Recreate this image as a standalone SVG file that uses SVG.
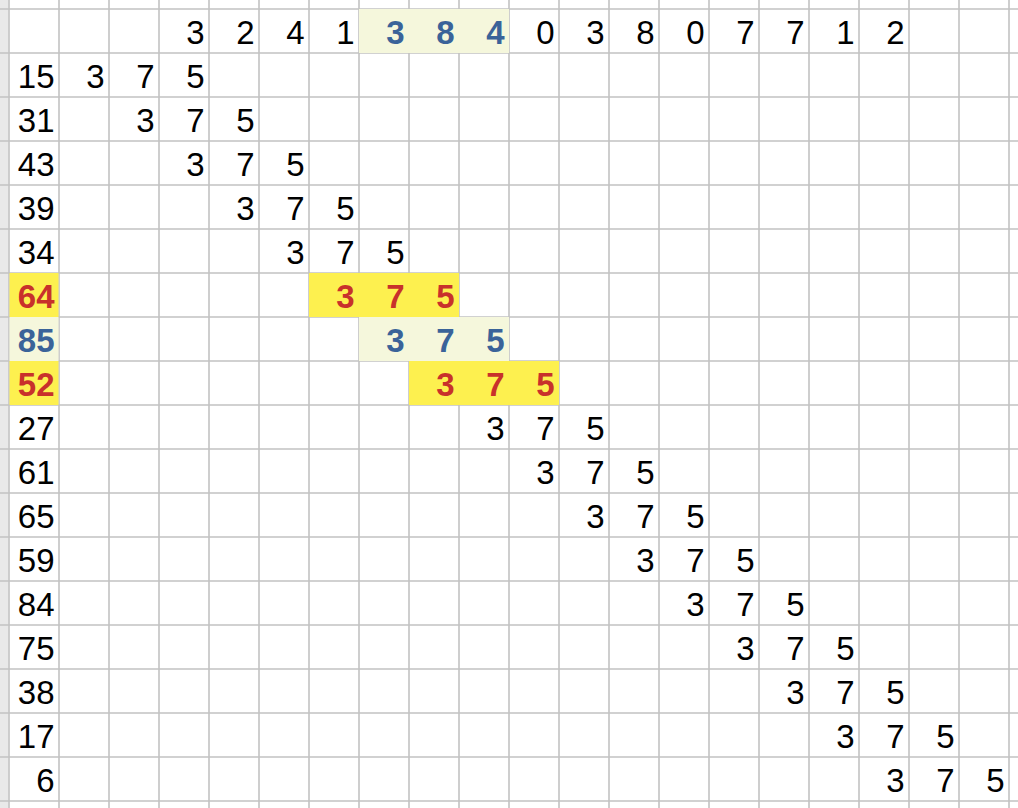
<svg xmlns="http://www.w3.org/2000/svg" width="1018" height="808" viewBox="0 0 1018 808">
<style>
.g{stroke:#c2c2c2;stroke-width:1.6;fill:none}
.n{font-family:"Liberation Sans",Arial,sans-serif;font-size:33px;text-anchor:end;fill:#000}
.r{font-weight:bold;fill:#c8312b}
.b{font-weight:bold;fill:#3a6399}
.y{fill:#fdf04f}
.p{fill:#f5f7dc}
</style>
<rect x="0" y="0" width="1018" height="808" fill="#fff"/>
<rect x="0" y="0" width="8.5" height="808" fill="#e9e9e9"/>
<g id="grid">
<path class="g" d="M9 0V808M59 0V808M109 0V808M159 0V808M209 0V808M259 0V808M309 0V808M359 0V808M409 0V808M459 0V808M509 0V808M559 0V808M609 0V808M659 0V808M709 0V808M759 0V808M809 0V808M859 0V808M909 0V808M959 0V808M1009 0V808"/>
<path class="g" d="M0 9H1018M0 53H1018M0 97H1018M0 141H1018M0 185H1018M0 229H1018M0 273H1018M0 317H1018M0 361H1018M0 405H1018M0 449H1018M0 493H1018M0 537H1018M0 581H1018M0 625H1018M0 669H1018M0 713H1018M0 757H1018M0 801H1018"/>
</g>
<g id="highlights">
<rect class="p" x="359" y="9" width="150" height="44"/>
<rect class="y" x="9.5" y="273" width="49" height="44"/>
<rect class="y" x="309" y="273" width="150" height="44"/>
<rect class="p" x="9.5" y="317" width="49" height="44"/>
<rect class="p" x="359" y="317" width="150" height="44"/>
<rect class="y" x="9.5" y="361" width="49" height="44"/>
<rect class="y" x="409" y="361" width="150" height="44"/>
</g>
<g id="header" class="n">
<text x="204.5" y="44">3</text><text x="254.5" y="44">2</text><text x="304.5" y="44">4</text><text x="354.5" y="44">1</text>
<text class="b" x="404.5" y="44">3</text><text class="b" x="454.5" y="44">8</text><text class="b" x="504.5" y="44">4</text>
<text x="554.5" y="44">0</text><text x="604.5" y="44">3</text><text x="654.5" y="44">8</text><text x="704.5" y="44">0</text><text x="754.5" y="44">7</text><text x="804.5" y="44">7</text><text x="854.5" y="44">1</text><text x="904.5" y="44">2</text>
</g>
<g id="row1" class="n"><text x="54.5" y="88">15</text><text x="104.5" y="88">3</text><text x="154.5" y="88">7</text><text x="204.5" y="88">5</text></g>
<g id="row2" class="n"><text x="54.5" y="132">31</text><text x="154.5" y="132">3</text><text x="204.5" y="132">7</text><text x="254.5" y="132">5</text></g>
<g id="row3" class="n"><text x="54.5" y="176">43</text><text x="204.5" y="176">3</text><text x="254.5" y="176">7</text><text x="304.5" y="176">5</text></g>
<g id="row4" class="n"><text x="54.5" y="220">39</text><text x="254.5" y="220">3</text><text x="304.5" y="220">7</text><text x="354.5" y="220">5</text></g>
<g id="row5" class="n"><text x="54.5" y="264">34</text><text x="304.5" y="264">3</text><text x="354.5" y="264">7</text><text x="404.5" y="264">5</text></g>
<g id="row6" class="n r"><text x="54.5" y="308">64</text><text x="354.5" y="308">3</text><text x="404.5" y="308">7</text><text x="454.5" y="308">5</text></g>
<g id="row7" class="n b"><text x="54.5" y="352">85</text><text x="404.5" y="352">3</text><text x="454.5" y="352">7</text><text x="504.5" y="352">5</text></g>
<g id="row8" class="n r"><text x="54.5" y="396">52</text><text x="454.5" y="396">3</text><text x="504.5" y="396">7</text><text x="554.5" y="396">5</text></g>
<g id="row9" class="n"><text x="54.5" y="440">27</text><text x="504.5" y="440">3</text><text x="554.5" y="440">7</text><text x="604.5" y="440">5</text></g>
<g id="row10" class="n"><text x="54.5" y="484">61</text><text x="554.5" y="484">3</text><text x="604.5" y="484">7</text><text x="654.5" y="484">5</text></g>
<g id="row11" class="n"><text x="54.5" y="528">65</text><text x="604.5" y="528">3</text><text x="654.5" y="528">7</text><text x="704.5" y="528">5</text></g>
<g id="row12" class="n"><text x="54.5" y="572">59</text><text x="654.5" y="572">3</text><text x="704.5" y="572">7</text><text x="754.5" y="572">5</text></g>
<g id="row13" class="n"><text x="54.5" y="616">84</text><text x="704.5" y="616">3</text><text x="754.5" y="616">7</text><text x="804.5" y="616">5</text></g>
<g id="row14" class="n"><text x="54.5" y="660">75</text><text x="754.5" y="660">3</text><text x="804.5" y="660">7</text><text x="854.5" y="660">5</text></g>
<g id="row15" class="n"><text x="54.5" y="704">38</text><text x="804.5" y="704">3</text><text x="854.5" y="704">7</text><text x="904.5" y="704">5</text></g>
<g id="row16" class="n"><text x="54.5" y="748">17</text><text x="854.5" y="748">3</text><text x="904.5" y="748">7</text><text x="954.5" y="748">5</text></g>
<g id="row17" class="n"><text x="54.5" y="792">6</text><text x="904.5" y="792">3</text><text x="954.5" y="792">7</text><text x="1004.5" y="792">5</text></g>
</svg>
